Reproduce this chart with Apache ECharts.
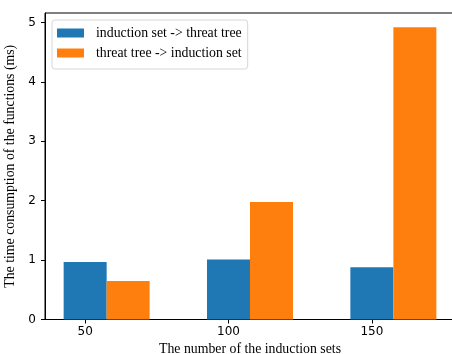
<!DOCTYPE html>
<html><head><meta charset="utf-8">
<script src="https://cdn.jsdelivr.net/npm/echarts@6/dist/echarts.min.js"></script>
<style>html,body{margin:0;padding:0;background:#fff}#c{width:452px;height:354px}</style>
</head><body><div id="c"></div>
<script>
const categories = [50, 100, 150];
const seriesNames = ['induction set -> threat tree', 'threat tree -> induction set'];
const inductionToThreat = [0.97, 1.01, 0.88];
const threatToInduction = [0.65, 1.98, 4.92];
const yTicks = [0, 1, 2, 3, 4, 5];
const xTitle = 'The number of the induction sets';
const yTitle = 'The time consumption of the functions (ms)';

const chart = echarts.init(document.getElementById('c'), null, {renderer: 'canvas'});
const serif = '"Liberation Serif", "DejaVu Serif", serif';
const sans = '"DejaVu Sans", sans-serif';
const axisLine = {show: true, onZero: false, lineStyle: {color: '#000', width: 1}};
chart.setOption({
  animation: false,
  grid: {left: 45, top: 13, width: 410, height: 306.5, show: true, borderColor: '#000', borderWidth: 1, containLabel: false, outerBoundsMode: 'none'},
  legend: {
    orient: 'vertical', left: 52, top: 20, itemWidth: 27, itemHeight: 9, itemGap: 6, icon: 'rect',
    padding: [6, 6, 9, 5], borderColor: '#d6d6d6', borderWidth: 1, borderRadius: 3, backgroundColor: 'rgba(255,255,255,0.8)',
    textStyle: {fontFamily: serif, fontSize: 13.8, color: '#000', padding: [0, 0, 0, 7]},
    itemStyle: {borderWidth: 0},
    data: seriesNames
  },
  xAxis: [{
    type: 'value', min: 36, max: 179, position: 'bottom',
    axisLine: axisLine,
    axisTick: {show: true, inside: false, length: 4, lineStyle: {color: '#000'}, customValues: categories},
    axisLabel: {color: '#000', fontFamily: sans, fontSize: 12, margin: 6, customValues: categories},
    splitLine: {show: false},
    name: xTitle, nameLocation: 'middle', nameGap: 22,
    nameTextStyle: {fontFamily: serif, fontSize: 13.8, color: '#000'}
  }, {
    type: 'value', min: 28.5, max: 171.5, show: false, position: 'bottom'
  }],
  yAxis: {
    type: 'value', min: 0, max: 5.16,
    axisLine: axisLine,
    axisTick: {show: true, inside: false, length: 4, lineStyle: {color: '#000'}, customValues: yTicks},
    axisLabel: {color: '#000', fontFamily: sans, fontSize: 12, margin: 9, customValues: yTicks},
    splitLine: {show: false},
    name: yTitle, nameLocation: 'middle', nameGap: 23, nameRotate: 90,
    nameTextStyle: {fontFamily: serif, fontSize: 13.8, color: '#000'}
  },
  series: [{
    name: seriesNames[0], type: 'bar', xAxisIndex: 1, barWidth: 43, barGap: '0%',
    itemStyle: {color: '#1f77b4'},
    data: categories.map((c, i) => [c, inductionToThreat[i]])
  }, {
    name: seriesNames[1], type: 'bar', xAxisIndex: 1, barWidth: 43, barGap: '0%',
    itemStyle: {color: '#ff7f0e'},
    data: categories.map((c, i) => [c, threatToInduction[i]])
  }]
});
</script></body></html>
